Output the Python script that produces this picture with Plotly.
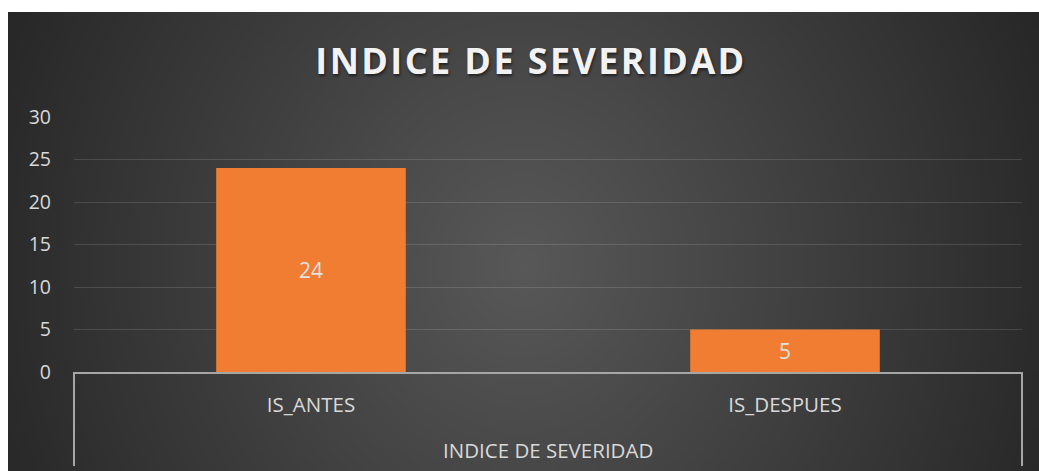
import base64
import math
import struct
import zlib

import plotly.graph_objects as go

# ---------------- data ----------------
group_label = "INDICE DE SEVERIDAD"
categories = ["IS_ANTES", "IS_DESPUES"]
values = [24, 5]
title_text = "INDICE DE SEVERIDAD"
y_ticks = [0, 5, 10, 15, 20, 25, 30]

# ---------------- figure geometry (px) ----------------
W, H = 1039, 471
PL, PR, PT, PB = 74, 1022, 117, 372          # plot area edges
BG_X0, BG_Y0 = 8, 12                         # chart background origin
GROUP_LABEL_Y = 450                          # px, centre of group label
DIVIDER_BOTTOM = 466                         # px, bottom of axis dividers


def make_png(w, h, pixel):
    rows = []
    for j in range(h):
        row = bytearray([0])
        for i in range(w):
            row.extend(pixel(i, j))
        rows.append(bytes(row))
    raw = b"".join(rows)

    def chunk(tag, data):
        c = struct.pack(">I", len(data)) + tag + data
        return c + struct.pack(">I", zlib.crc32(tag + data) & 0xFFFFFFFF)

    ihdr = struct.pack(">IIBBBBB", w, h, 8, 2, 0, 0, 0)
    png = b"\x89PNG\r\n\x1a\n" + chunk(b"IHDR", ihdr) + chunk(b"IDAT", zlib.compress(raw, 9)) + chunk(b"IEND", b"")
    return "data:image/png;base64," + base64.b64encode(png).decode()


# radial gradient background (light centre -> dark edges)
bw, bh = W - BG_X0, H - BG_Y0
gw, gh = 260, 116
cx, cy = 523 - BG_X0, 265 - BG_Y0
rx, ry = 575, 630
c_in, c_out = 88, 38


def bg_pixel(i, j):
    x = (i + 0.5) / gw * bw
    y = (j + 0.5) / gh * bh
    t = math.sqrt(((x - cx) / rx) ** 2 + ((y - cy) / ry) ** 2)
    t = min(t, 1.0)
    v = int(round(c_in + (c_out - c_in) * t))
    return (v, v, v)


bg_src = make_png(gw, gh, bg_pixel)

pw, ph = PR - PL, PB - PT
axis_grey = "#a6a6a6"

fig = go.Figure()
fig.add_trace(
    go.Bar(
        x=categories,
        y=values,
        width=0.4,
        marker=dict(color="#f07d31", line=dict(width=0)),
        text=[str(v) for v in values],
        textposition="inside",
        insidetextanchor="middle",
        textangle=0,
        textfont=dict(family="Open Sans", size=21, color="#e3e3e3"),
        hoverinfo="skip",
    )
)

# multi-level axis frame: vertical dividers at both ends of the category group
for xp in (0, 1):
    fig.add_shape(
        type="line", xref="paper", yref="paper",
        x0=xp, x1=xp, y0=0, y1=-(DIVIDER_BOTTOM - PB) / ph,
        line=dict(color=axis_grey, width=2), layer="above",
    )

fig.add_annotation(
    text=group_label, xref="paper", yref="paper",
    x=0.5, y=-(GROUP_LABEL_Y - PB) / ph,
    xanchor="center", yanchor="middle", showarrow=False,
    font=dict(family="Open Sans", size=20.5, color="#d9d9d9"),
)

fig.update_layout(
    width=W,
    height=H,
    autosize=False,
    margin=dict(l=PL, r=W - PR, t=PT, b=H - PB, pad=0),
    paper_bgcolor="#ffffff",
    plot_bgcolor="rgba(0,0,0,0)",
    showlegend=False,
    title=dict(
        text=title_text,
        x=531 / W,
        xanchor="center",
        xref="container",
        y=1 - 61 / H,
        yanchor="middle",
        yref="container",
        font=dict(family="Open Sans", size=36, color="#f2f2f2", weight="bold",
                  shadow="1px 2px 3px rgba(0,0,0,0.55)"),
    ),
    images=[
        dict(
            source=bg_src,
            xref="paper",
            yref="paper",
            x=(BG_X0 - PL) / pw,
            y=(PB - BG_Y0) / ph,
            sizex=bw / pw,
            sizey=bh / ph,
            xanchor="left",
            yanchor="top",
            sizing="stretch",
            layer="below",
        )
    ],
    xaxis=dict(
        type="category",
        showline=True,
        linecolor=axis_grey,
        linewidth=2,
        ticks="",
        showgrid=False,
        ticklabelstandoff=13,
        tickfont=dict(family="Open Sans", size=20.5, color="#d9d9d9"),
        fixedrange=True,
    ),
    yaxis=dict(
        range=[0, 30],
        tickvals=y_ticks,
        showline=False,
        zeroline=False,
        showgrid=True,
        gridcolor="rgba(255,255,255,0.13)",
        gridwidth=1,
        ticks="",
        ticklabelstandoff=22,
        tickfont=dict(family="Open Sans", size=19.5, color="#d9d9d9"),
        fixedrange=True,
    ),
)

fig.write_html(
    "out.html",
    config={"displayModeBar": False},
    post_script=(
        "document.body.style.margin='0';document.body.style.overflow='hidden';"
        "var t=document.querySelector('.gtitle');if(t){t.style.letterSpacing='2.4px';}"
    ),
)
